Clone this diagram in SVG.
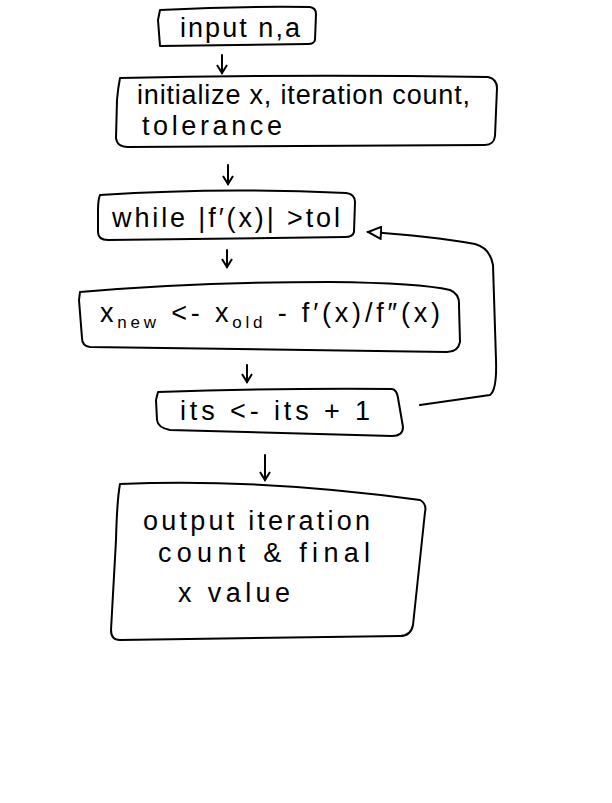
<svg xmlns="http://www.w3.org/2000/svg" width="612" height="803" viewBox="0 0 612 803">
<style>
.b{fill:none;stroke:#000;stroke-width:2;stroke-linecap:round;stroke-linejoin:round}
.t{font-family:"Liberation Sans","DejaVu Sans",sans-serif;font-size:27px;fill:#000}
</style>
<defs>
<marker id="open" markerWidth="16" markerHeight="14" refX="14" refY="7" orient="auto" markerUnits="userSpaceOnUse">
<path d="M1,1 L14,7 L1,13 Z" fill="#fff" stroke="#000" stroke-width="2"/>
</marker>
<marker id="v" markerWidth="12" markerHeight="12" refX="9" refY="6" orient="auto" markerUnits="userSpaceOnUse">
<path d="M1,1 L9,6 L1,11" fill="none" stroke="#000" stroke-width="2"/>
</marker>
</defs>
<rect width="612" height="803" fill="#fff"/>
<g id="connectors">
<path class="b" d="M222,55 L222,73" marker-end="url(#v)"/>
<path class="b" d="M228,165 L228,184" marker-end="url(#v)"/>
<path class="b" d="M227,250 L227,267" marker-end="url(#v)"/>
<path class="b" d="M247,365 L247,382" marker-end="url(#v)"/>
<path class="b" d="M265,455 L265,480" marker-end="url(#v)"/>
<path class="b" d="M420,405 Q470,398 490,395 Q497,390 496,360 L493,265 Q490,248 475,244 Q430,236 368,232" marker-end="url(#open)"/>
</g>
<g id="n1">
<path class="b" d="M160,10 Q240,6 310,7 Q316,8 316,14 L315,40 Q314,44 308,44 L160,46 L158,20 Z"/>
<text class="t" x="180" y="37" textLength="120" lengthAdjust="spacing">input n,a</text>
</g>
<g id="n2">
<path class="b" d="M120,78 Q300,74 488,77 Q497,79 497,88 L495,136 Q494,145 485,145 L128,147 Q117,147 116,138 L117,100 Q118,88 120,78 Z"/>
<text class="t" x="137" y="104" textLength="333" lengthAdjust="spacing">initialize x, iteration count,</text>
<text class="t" x="142" y="135" textLength="140" lengthAdjust="spacing">tolerance</text>
</g>
<g id="n3">
<path class="b" d="M100,195 Q220,187 346,193 Q355,194 355,202 L354,232 Q353,237 345,237 L108,240 Q98,240 98,232 L98,210 Q98,200 100,195 Z"/>
<text class="t" x="112" y="227" textLength="228" lengthAdjust="spacing">while |f′(x)| &gt;tol</text>
</g>
<g id="n4">
<path class="b" d="M80,292 Q200,282 330,282 Q420,283 450,290 Q460,294 459,306 L460,342 Q458,352 447,352 L90,347 Q82,346 82,338 L79,300 Z"/>
<text class="t" x="100" y="322" textLength="340" lengthAdjust="spacing">x<tspan font-size="17" dy="6">new</tspan><tspan dy="-6"> &lt;- x</tspan><tspan font-size="17" dy="6">old</tspan><tspan dy="-6"> - f′(x)/f″(x)</tspan></text>
</g>
<g id="n5">
<path class="b" d="M158,392 Q280,388 392,389 Q397,390 398,398 L403,427 Q403,436 392,436 L170,430 Q158,428 157,420 L156,400 Z"/>
<text class="t" x="180" y="420" textLength="190" lengthAdjust="spacing">its &lt;- its + 1</text>
</g>
<g id="n6">
<path class="b" d="M120,484 Q260,478 420,500 Q427,504 425,512 L413,625 Q411,636 400,636 L120,640 Q111,640 111,630 L116,540 Q117,500 120,484 Z"/>
<text class="t" x="143" y="530" textLength="227" lengthAdjust="spacing">output iteration</text>
<text class="t" x="158" y="562" textLength="212" lengthAdjust="spacing">count &amp; final</text>
<text class="t" x="178" y="602" textLength="112" lengthAdjust="spacing">x value</text>
</g>
</svg>
